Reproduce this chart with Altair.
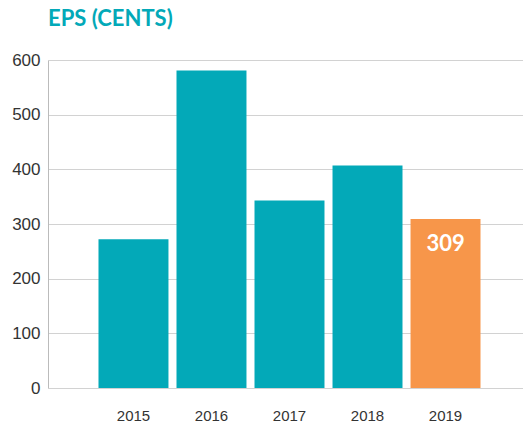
import altair as alt
import pandas as pd

years = ["2015", "2016", "2017", "2018", "2019"]
eps = [272, 581, 343, 407, 309]
highlight = [False, False, False, False, True]

df = pd.DataFrame({"year": years, "eps": eps, "highlight": highlight})

TEAL = "#03A9B8"
ORANGE = "#F7964A"

x = alt.X(
    "year:N",
    title=None,
    sort=years,
    scale=alt.Scale(paddingInner=0.103, paddingOuter=0.596, align=0.543),
    axis=alt.Axis(
        labelAngle=0,
        labelFont="Liberation Sans",
        labelFontSize=15,
        labelColor="#333333",
        labelPadding=20,
        ticks=False,
        domain=False,
    ),
)
y = alt.Y(
    "eps:Q",
    title=None,
    scale=alt.Scale(domain=[0, 600], nice=False),
    axis=alt.Axis(
        values=[0, 100, 200, 300, 400, 500, 600],
        labelFont="Liberation Sans",
        labelFontSize=17,
        labelColor="#333333",
        labelPadding=8,
        ticks=False,
        domainColor="#bbbbbb",
        gridColor="#d2d2d2",
        gridWidth=1.2,
        minExtent=40,
        maxExtent=40,
    ),
)

bars = alt.Chart(df).mark_bar().encode(
    x=x,
    y=y,
    color=alt.Color(
        "highlight:N",
        scale=alt.Scale(domain=[False, True], range=[TEAL, ORANGE]),
        legend=None,
    ),
)

labels = (
    alt.Chart(df)
    .transform_filter("datum.highlight")
    .mark_text(
        font="Lato",
        fontSize=22,
        fontWeight="bold",
        color="white",
        dy=25,
        baseline="middle",
    )
    .encode(x=x, y=y, text=alt.Text("eps:Q"))
)

chart = (
    alt.layer(bars, labels)
    .properties(
        width=475,
        height=328,
        padding={"left": 0, "top": 0, "right": 0, "bottom": 0},
        title=alt.TitleParams(
            "EPS (CENTS)",
            anchor="start",
            frame="group",
            font="Lato",
            fontSize=22,
            fontWeight="bold",
            color=TEAL,
            offset=20,
        ),
    )
    .configure_view(stroke=None)
)

chart.save("out.html", embed_options={"renderer": "svg", "actions": False})
